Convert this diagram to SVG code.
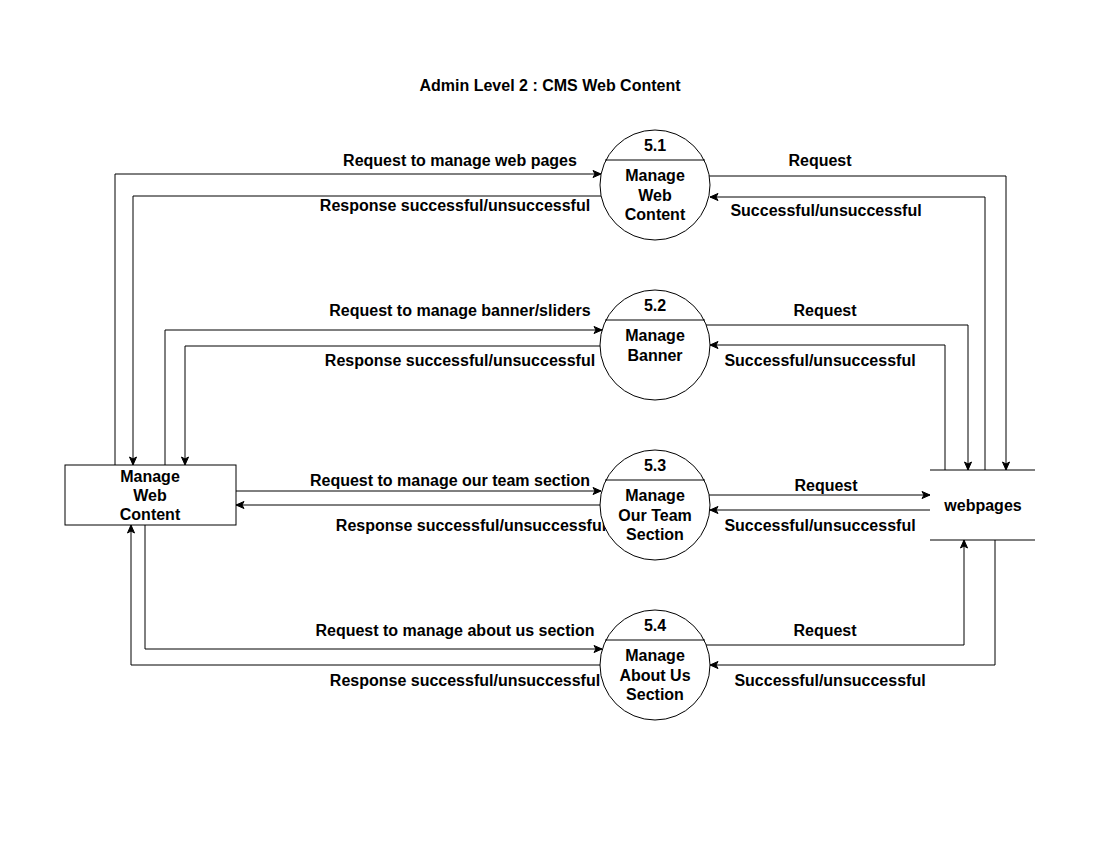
<svg xmlns="http://www.w3.org/2000/svg" width="1100" height="850" viewBox="0 0 1100 850">
<style>
text{font-family:"Liberation Sans",Arial,sans-serif;font-size:16px;font-weight:bold;fill:#000;text-anchor:middle;dominant-baseline:central}
.shape{fill:#fff;stroke:#000;stroke-width:1}
.ln{fill:none;stroke:#000;stroke-width:1}
.c{fill:none;stroke:#000;stroke-width:1;marker-end:url(#arr)}
</style>
<defs>
<marker id="arr" markerUnits="userSpaceOnUse" markerWidth="10" markerHeight="10" viewBox="0 0 10 10" refX="9" refY="5" orient="auto">
<path d="M1,1.5 L9,5 L1,8.5 L3,5 z" fill="#000" stroke="#000" stroke-width="1"/>
</marker>
</defs>
<rect width="1100" height="850" fill="#fff"/>
<text x="550" y="85">Admin Level 2 : CMS Web Content</text>

<g id="connectors">
<path class="c" d="M115,465 V174 H601"/>
<path class="c" d="M601,196 H133 V465"/>
<path class="c" d="M165,465 V330 H602"/>
<path class="c" d="M600,346 H185 V465"/>
<path class="c" d="M236,491 H601"/>
<path class="c" d="M600,505 H236"/>
<path class="c" d="M145,525 V649 H602"/>
<path class="c" d="M600,665 H131 V525"/>
<path class="c" d="M709,176 H1006 V470"/>
<path class="c" d="M985,470 V197 H710"/>
<path class="c" d="M706,325 H968 V470"/>
<path class="c" d="M945,470 V345 H710"/>
<path class="c" d="M709,495 H930"/>
<path class="c" d="M930,510 H710"/>
<path class="c" d="M706,645 H964 V540"/>
<path class="c" d="M995,540 V665 H710"/>
<text x="460" y="160">Request to manage web pages</text>
<text x="455" y="205">Response successful/unsuccessful</text>
<text x="460" y="310">Request to manage banner/sliders</text>
<text x="460" y="360">Response successful/unsuccessful</text>
<text x="450" y="480">Request to manage our team section</text>
<text x="471" y="525">Response successful/unsuccessful</text>
<text x="455" y="630">Request to manage about us section</text>
<text x="465" y="680">Response successful/unsuccessful</text>
<text x="820" y="160">Request</text>
<text x="826" y="210">Successful/unsuccessful</text>
<text x="825" y="310">Request</text>
<text x="820" y="360">Successful/unsuccessful</text>
<text x="826" y="485">Request</text>
<text x="820" y="525">Successful/unsuccessful</text>
<text x="825" y="630">Request</text>
<text x="830" y="680">Successful/unsuccessful</text>
</g>

<g id="manage-web-content">
<rect class="shape" x="65" y="465" width="171" height="60"/>
<text x="150" y="476">Manage</text>
<text x="150" y="495">Web</text>
<text x="150" y="514">Content</text>
</g>

<g id="p5-1">
<circle class="shape" cx="655" cy="185" r="55"/>
<line class="ln" x1="605" y1="160" x2="705" y2="160"/>
<text x="655" y="145">5.1</text>
<text x="655" y="175">Manage</text>
<text x="655" y="195">Web</text>
<text x="655" y="214">Content</text>
</g>

<g id="p5-2">
<circle class="shape" cx="655" cy="345" r="55"/>
<line class="ln" x1="605" y1="320" x2="705" y2="320"/>
<text x="655" y="305">5.2</text>
<text x="655" y="335">Manage</text>
<text x="655" y="355">Banner</text>
</g>

<g id="p5-3">
<circle class="shape" cx="655" cy="505" r="55"/>
<line class="ln" x1="605" y1="480" x2="705" y2="480"/>
<text x="655" y="465">5.3</text>
<text x="655" y="495">Manage</text>
<text x="655" y="515">Our Team</text>
<text x="655" y="534">Section</text>
</g>

<g id="p5-4">
<circle class="shape" cx="655" cy="665" r="55"/>
<line class="ln" x1="605" y1="640" x2="705" y2="640"/>
<text x="655" y="625">5.4</text>
<text x="655" y="655">Manage</text>
<text x="655" y="675">About Us</text>
<text x="655" y="694">Section</text>
</g>

<g id="webpages">
<line class="ln" x1="930" y1="470" x2="1035" y2="470"/>
<line class="ln" x1="930" y1="540" x2="1035" y2="540"/>
<text x="983" y="505">webpages</text>
</g>
</svg>
